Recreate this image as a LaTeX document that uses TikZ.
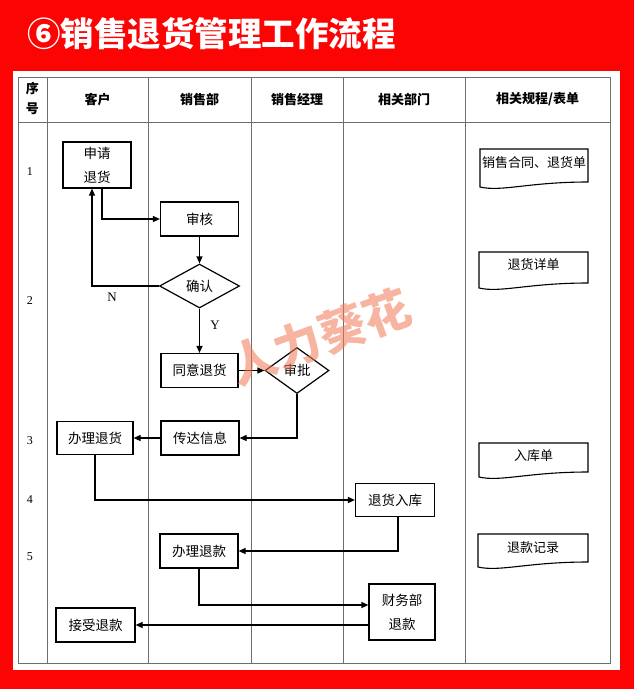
\documentclass[tikz,border=0pt]{standalone}
\usepackage{fontspec}
\setmainfont{Liberation Serif}
\newfontfamily\cjk{Noto Sans CJK SC}
\usetikzlibrary{arrows.meta,shapes.geometric}
\definecolor{bgred}{RGB}{252,4,4}
\definecolor{gridgray}{RGB}{110,110,110}
\definecolor{wmark}{RGB}{240,120,85}
\tikzset{
  box/.style={draw=black,line width=1.2pt,rectangle,inner sep=0pt,align=center,
    font=\cjk\fontsize{13.5}{24}\selectfont},
  dia/.style={draw=black,line width=1.2pt,diamond,inner sep=0pt,
    font=\cjk\fontsize{13.5}{16}\selectfont},
  arr/.style={draw=black,line width=1.2pt,-{Triangle[length=7pt,width=6pt]}},
  grid/.style={draw=gridgray,line width=0.9pt},
  head/.style={font=\cjk\bfseries\fontsize{13}{16}\selectfont},
  rownum/.style={font=\fontsize{12}{14}\selectfont},
  yn/.style={font=\fontsize{13}{14}\selectfont},
  doctext/.style={font=\cjk\fontsize{13}{16}\selectfont,inner sep=0pt},
  docline/.style={draw=black,line width=1.1pt,fill=white},
}
\newcommand\docshape[4]{% x1, ytop, x2, ybottom-right
  \pgfmathsetmacro\dw{#3-#1}
  \pgfmathsetmacro\ca{#1+0.2*\dw}
  \pgfmathsetmacro\cb{#1+0.45*\dw}
  \pgfmathsetmacro\yl{#4+5}
  \pgfmathsetmacro\yca{#4+10}
  \draw[docline] (#1,#2) -- (#3,#2) -- (#3,#4)
    .. controls (\cb,#4) and (\ca,\yca) .. (#1,\yl) -- cycle;
}
\begin{document}
\begin{tikzpicture}[x=1pt,y=-1pt]
\useasboundingbox (0,0) rectangle (634,689);
\fill[bgred] (0,0) rectangle (634,689);
\node[anchor=west,text=white,font=\cjk\bfseries\fontsize{33.5}{36}\selectfont,inner sep=0pt]
  (title) at (27,34) {⑥销售退货管理工作流程};
\fill[white] (13,71) rectangle (620,670);

% table
\draw[grid] (18,77) rectangle (610,663);
\draw[grid] (18,122) -- (610,122);
\foreach \x in {47,148,251,343,465}
  \draw[grid] (\x,77) -- (\x,663);

% header
\node[head] (h0a) at (32.5,89) {序};
\node[head] (h0b) at (32.5,109) {号};
\node[head] (h1) at (97.5,99.5) {客户};
\node[head] (h2) at (199.5,99.5) {销售部};
\node[head] (h3) at (297,99.5) {销售经理};
\node[head] (h4) at (404,99.5) {相关部门};
\node[head] (h5) at (537.5,99.5) {相关规程/表单};

% row numbers
\node[rownum] (r1) at (30,172) {1};
\node[rownum] (r2) at (30,301) {2};
\node[rownum] (r3) at (30,441) {3};
\node[rownum] (r4) at (30,500) {4};
\node[rownum] (r5) at (30,557) {5};

% flow nodes
\node[box,minimum width=68pt,minimum height=46pt] (ask) at (97,165) {申请\\退货};
\node[box,minimum width=78pt,minimum height=34pt] (audit) at (199.5,219) {审核};
\node[dia,minimum width=80pt,minimum height=44pt] (confirm) at (199.5,286) {确认};
\node[box,minimum width=77pt,minimum height=34pt] (agree) at (199.5,370.5) {同意退货};
\node[dia,minimum width=64pt,minimum height=46pt] (approve) at (297,370.5) {审批};
\node[box,minimum width=78pt,minimum height=34pt] (relay) at (200,438) {传达信息};
\node[box,minimum width=76pt,minimum height=33pt] (handle) at (95,438) {办理退货};
\node[box,minimum width=79pt,minimum height=33pt] (stock) at (395,500) {退货入库};
\node[box,minimum width=78pt,minimum height=34pt] (refund) at (199,551) {办理退款};
\node[box,minimum width=66pt,minimum height=56pt] (finance) at (402,612) {财务部\\退款};
\node[box,minimum width=79pt,minimum height=34pt] (receive) at (95.5,625) {接受退款};

% connectors
\draw[arr] ([xshift=5pt]ask.south) |- (audit.west);
\draw[arr] (audit.south) -- (confirm.north);
\draw[arr] (confirm.west) -| ([xshift=-5pt]ask.south);
\node[yn] (nlab) at (112,297) {N};
\draw[arr] (confirm.south) -- (agree.north);
\node[yn] (ylab) at (215,325) {Y};
\draw[arr] (agree.east) -- (approve.west);
\draw[arr] (approve.south) |- (relay.east);
\draw[arr] (relay.west) -- (handle.east);
\draw[arr] (handle.south) |- (stock.west);
\draw[arr] ([xshift=3pt]stock.south) |- (refund.east);
\draw[arr] (refund.south) |- ([yshift=7pt]finance.west);
\draw[arr] (finance.west |- receive.east) -- (receive.east);

% documents
\docshape{480}{149}{588}{182}
\node[doctext] (d1) at (534,163) {销售合同、退货单};
\docshape{479}{252}{588}{283}
\node[doctext] (d2) at (533.5,265) {退货详单};
\docshape{479}{443}{588}{472}
\node[doctext] (d3) at (533.5,456) {入库单};
\docshape{478}{534}{588}{562}
\node[doctext] (d4) at (533,548) {退款记录};

% watermark
\node[text=wmark,opacity=0.55,rotate=20,font=\cjk\bfseries\fontsize{47}{48}\selectfont]
  (wm) at (320,337) {人力葵花};
\end{tikzpicture}
\end{document}
